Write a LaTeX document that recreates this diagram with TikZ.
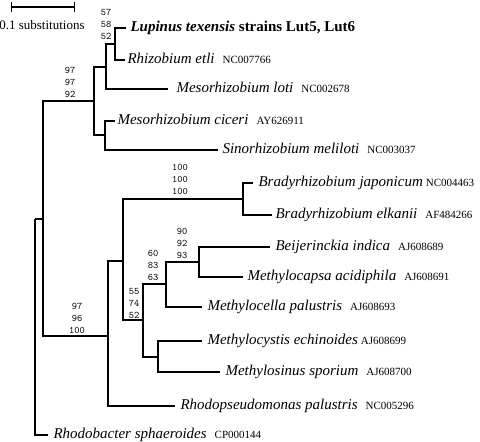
\documentclass[tikz,border=0pt]{standalone}
\usepackage{fontspec}
\setmainfont{Liberation Serif}
\usepackage{tikz}
\usetikzlibrary{arrows.meta}

\newcommand{\acc}[1]{{\upshape\fontsize{11bp}{12bp}\selectfont #1}}

\begin{document}
\begin{tikzpicture}
  [x=1bp,y=-1bp,line width=1.1bp,
   leaf/.style={anchor=west,inner xsep=#1,inner ysep=0pt,text height=10bp,text depth=3bp,
     font=\fontsize{15bp}{18bp}\selectfont\itshape},
   leaf/.default=4bp,
   boot/.style={align=center,inner sep=0pt,font=\ttfamily\fontsize{10bp}{12bp}\selectfont}]
  \useasboundingbox (0,0) rectangle (480,442);

  % scale bar
  \coordinate (sbL) at (11,7);
  \coordinate (sbR) at (75,7);
  \draw[{Bar[width=10bp]}-{Bar[width=10bp]}] (sbL) -- (sbR);
  \node[font=\fontsize{13bp}{15bp}\selectfont] (sblab) at (42,25) {0.1 substitutions};

  % inner nodes
  \coordinate (nRoot) at (35,219);
  \coordinate (nAlpha) at (43,219);
  \coordinate (nRhizo) at (94,101);
  \coordinate (nMeso) at (106,67);
  \coordinate (nLR) at (115,44);
  \coordinate (nSino) at (105,135);
  \coordinate (nRpal) at (108,336);
  \coordinate (nBM) at (123,261);
  \coordinate (nBrady) at (243,199);
  \coordinate (nMeth) at (143,320);
  \coordinate (nMcella) at (166,284);
  \coordinate (nBeij) at (199,262);
  \coordinate (nMcyst) at (158,357);

  % leaves
  \node[leaf] (lup) at (126,28) {\bfseries Lupinus texensis \upshape strains Lut5, Lut6};
  \node[leaf=2bp] (ret) at (125,60) {Rhizobium etli\hspace{8bp}\acc{NC007766}};
  \node[leaf=8bp] (mlo) at (168,89) {Mesorhizobium loti\hspace{8bp}\acc{NC002678}};
  \node[leaf=2bp] (mci) at (115,121) {Mesorhizobium ciceri\hspace{8bp}\acc{AY626911}};
  \node[leaf] (sme) at (218,150) {Sinorhizobium meliloti\hspace{8bp}\acc{NC003037}};
  \node[leaf=5bp] (bja) at (253,183) {Bradyrhizobium japonicum\hspace{3bp}\acc{NC004463}};
  \node[leaf=3bp] (bel) at (272,215) {Bradyrhizobium elkanii\hspace{8bp}\acc{AF484266}};
  \node[leaf=5bp] (bin) at (270,247) {Beijerinckia indica\hspace{8bp}\acc{AJ608689}};
  \node[leaf] (mac) at (243,277) {Methylocapsa acidiphila\hspace{8bp}\acc{AJ608691}};
  \node[leaf=5bp] (mpa) at (202,307) {Methylocella palustris\hspace{8bp}\acc{AJ608693}};
  \node[leaf=5bp] (mec) at (202,341) {Methylocystis echinoides\hspace{3bp}\acc{AJ608699}};
  \node[leaf=5bp] (msp) at (220,372) {Methylosinus sporium\hspace{8bp}\acc{AJ608700}};
  \node[leaf=5bp] (rpa) at (175,406) {Rhodopseudomonas palustris\hspace{8bp}\acc{NC005296}};
  \node[leaf=5bp] (rsp) at (48,435) {Rhodobacter sphaeroides\hspace{8bp}\acc{CP000144}};

  \foreach \from/\to in {nRoot/nAlpha,nRoot/rsp.west,nAlpha/nRhizo,nAlpha/nRpal,
      nRhizo/nMeso,nRhizo/nSino,nMeso/nLR,nMeso/mlo.west,nLR/lup.west,nLR/ret.west,
      nSino/mci.west,nSino/sme.west,nRpal/nBM,nRpal/rpa.west,nBM/nBrady,nBM/nMeth,
      nBrady/bja.west,nBrady/bel.west,nMeth/nMcella,nMeth/nMcyst,
      nMcella/nBeij,nMcella/mpa.west,nBeij/bin.west,nBeij/mac.west,
      nMcyst/mec.west,nMcyst/msp.west}
    \draw (\from) |- (\to);

  % bootstrap values
  \node[boot] (bLR) at (106,24) {57\\58\\52};
  \node[boot] (bRhizo) at (70,82) {97\\97\\92};
  \node[boot] (bBrady) at (180,179) {100\\100\\100};
  \node[boot] (bBeij) at (182,243) {90\\92\\93};
  \node[boot] (bMcella) at (153,265) {60\\83\\63};
  \node[boot] (bMeth) at (134,303) {55\\74\\52};
  \node[boot] (bRpal) at (77,318) {97\\96\\100};

\end{tikzpicture}
\end{document}
